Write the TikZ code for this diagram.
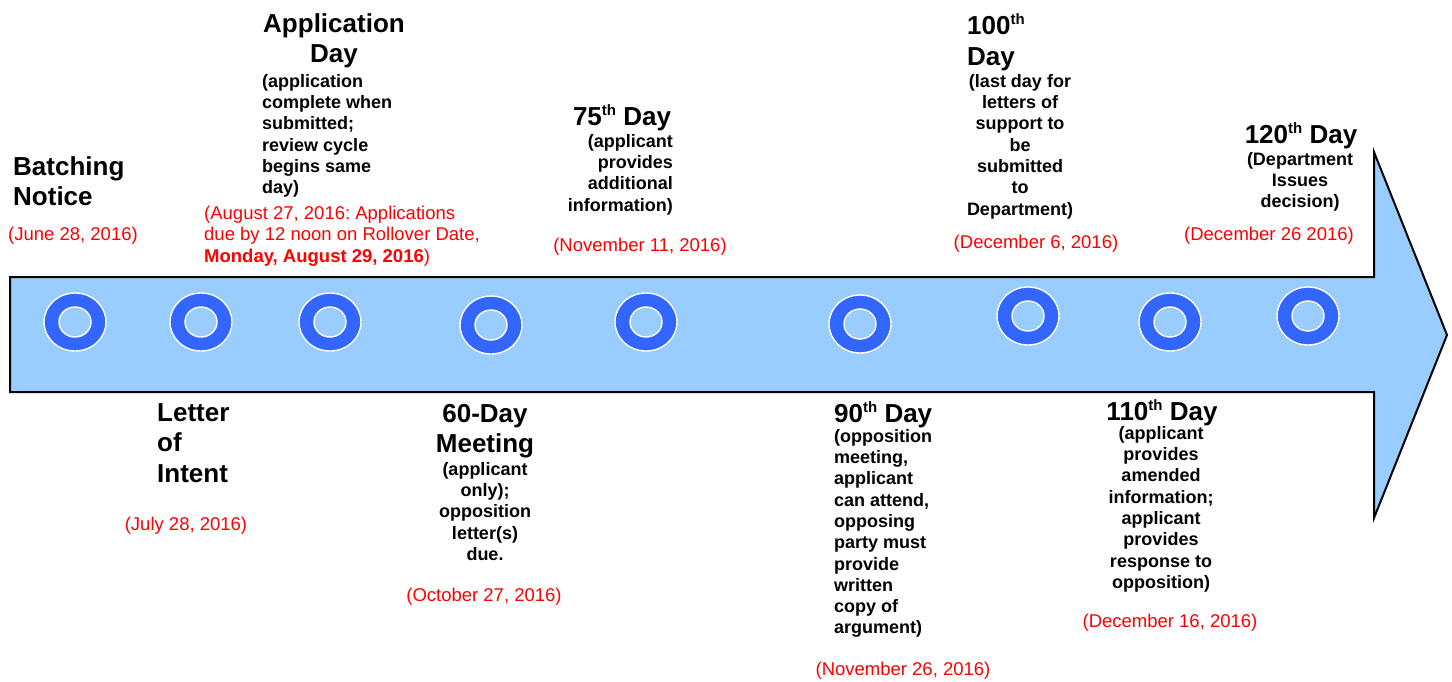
\documentclass[tikz,border=0pt]{standalone}
\usepackage{fontspec}
\setmainfont{Liberation Sans}
\frenchspacing
\definecolor{arrowfill}{HTML}{99CCFF}
\definecolor{ringblue}{HTML}{3366FF}
\definecolor{datered}{HTML}{FF0000}
\newcommand\myth{\raisebox{0.42em}{\fontsize{15}{15}\selectfont th}}
\begin{document}
\begin{tikzpicture}[x=1pt,y=-1pt,
  title/.style={inner sep=0pt,font=\fontsize{26}{30.5}\selectfont\bfseries},
  body/.style={inner sep=0pt,font=\fontsize{18}{21.3}\selectfont\bfseries},
  datetxt/.style={inner sep=0pt,text=datered,font=\fontsize{18.5}{21.3}\selectfont},
  ring/.style={fill=ringblue,draw=white,line width=1.4pt},
  hole/.style={fill=arrowfill,draw=white,line width=1.4pt}]
\useasboundingbox (0,0) rectangle (1452,681);
\fill[white] (0,0) rectangle (1452,681);
% big arrow
\draw[fill=arrowfill,line width=2pt,line join=miter]
  (10,277) -- (1374,277) -- (1374,152) -- (1447,335) -- (1374,518) -- (1374,392) -- (10,392) -- cycle;
% rings
\foreach \n/\cx/\cy in {r1/75/322,r2/201/322,r3/330/322,r4/491/325,r5/646/322,r6/860/324,r7/1028/316,r8/1170/322,r9/1308/316}{
  \draw[ring] (\cx,\cy) ellipse [x radius=31pt,y radius=29pt];
  \draw[hole] (\cx,\cy) ellipse [x radius=16pt,y radius=15pt];
  \coordinate (\n) at (\cx,\cy);
}
% Batching notice
\node[title,anchor=north west,align=left] (bn) at (13,156) {Batching\\Notice};
\node[datetxt,anchor=north] (bnd) at (73,227) {(June 28, 2016)};
% Application day
\node[title,anchor=north,align=center] (ad) at (334,13) {Application\\Day};
\node[body,anchor=north west,align=left] (adb) at (262,74) {(application\\complete when\\submitted;\\review cycle\\begins same\\day)};
\node[datetxt,anchor=north west,align=left] (add) at (204,206) {(August 27, 2016: Applications\\due by 12 noon on Rollover Date,\\\textbf{Monday, August 29, 2016})};
% 75th day
\node[title,anchor=north] (d75) at (622,104) {75\myth{} Day};
\node[body,anchor=north east,align=right] (d75b) at (673,134) {(applicant\\provides\\additional\\information)};
\node[datetxt,anchor=north] (d75d) at (640,238) {(November 11, 2016)};
% 100th day
\node[title,anchor=north west,align=left] (d100) at (967,13) {100\myth\\Day};
\node[body,anchor=north,align=center] (d100b) at (1020,74) {(last day for\\letters of\\support to\\be\\submitted\\to\\Department)};
\node[datetxt,anchor=north] (d100d) at (1036,235) {(December 6, 2016)};
% 120th day
\node[title,anchor=north] (d120) at (1301,122) {120\myth{} Day};
\node[body,anchor=north,align=center] (d120b) at (1300,152) {(Department\\Issues\\decision)};
\node[datetxt,anchor=north] (d120d) at (1269,227) {(December 26 2016)};
% Letter of intent
\node[title,anchor=north west,align=left] (loi) at (157,403) {Letter\\of\\Intent};
\node[datetxt,anchor=north] (loid) at (186,517) {(July 28, 2016)};
% 60-day meeting
\node[title,anchor=north,align=center] (d60) at (485,404) {60-Day\\Meeting};
\node[body,anchor=north,align=center] (d60b) at (485,462) {(applicant\\only);\\opposition\\letter(s)\\due.};
\node[datetxt,anchor=north] (d60d) at (484,588) {(October 27, 2016)};
% 90th day
\node[title,anchor=north west] (d90) at (834,401) {90\myth{} Day};
\node[body,anchor=north west,align=left] (d90b) at (834,429) {(opposition\\meeting,\\applicant\\can attend,\\opposing\\party must\\provide\\written\\copy of\\argument)};
\node[datetxt,anchor=north] (d90d) at (903,662) {(November 26, 2016)};
% 110th day
\node[title,anchor=north] (d110) at (1162,399) {110\myth{} Day};
\node[body,anchor=north,align=center] (d110b) at (1161,426) {(applicant\\provides\\amended\\information;\\applicant\\provides\\response to\\opposition)};
\node[datetxt,anchor=north] (d110d) at (1170,614) {(December 16, 2016)};
\end{tikzpicture}
\end{document}
